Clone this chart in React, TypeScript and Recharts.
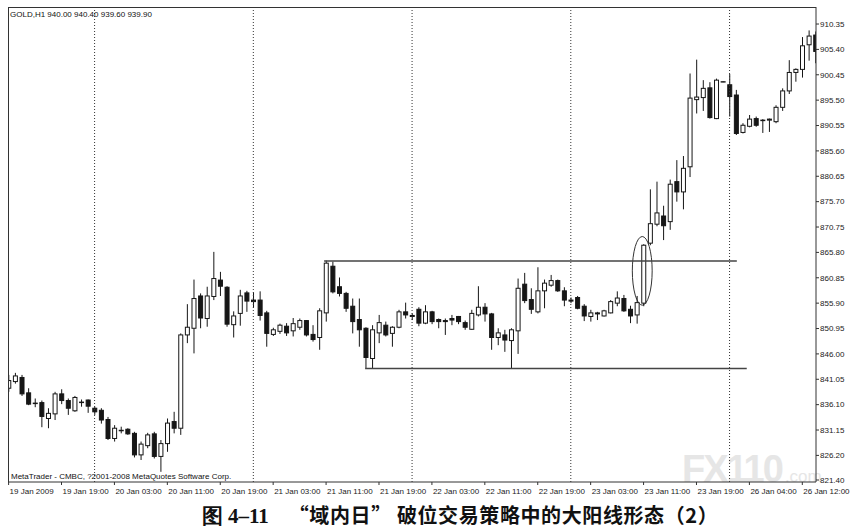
import { ComposedChart, Bar, XAxis, YAxis, ReferenceLine, ReferenceArea } from 'recharts'

// GOLD H1, 19 Jan 2009 11:00 .. 26 Jan 2009, one value per hourly bar
const open = [
  839.3, 840.6, 841.4, 838.4, 836.4, 836.5, 833.4, 834.3, 838.2, 836.9,
  834.9, 836.5, 837.0, 835.4, 835.0, 833.2, 829.5, 831.1, 831.3, 830.5,
  826.3, 828.1, 830.4, 826.0, 828.5, 832.8, 831.5, 849.7, 851.0, 857.3,
  852.9, 857.2, 860.4, 859.0, 851.7, 853.9, 857.9, 856.5, 856.5, 854.0,
  849.8, 850.4, 851.4, 850.5, 851.2, 852.5, 849.8, 849.2, 854.0, 863.1,
  859.1, 857.8, 855.3, 852.7, 851.0, 845.1, 850.1, 851.6, 850.0, 851.2,
  854.2, 853.5, 854.7, 852.0, 854.2, 852.7, 852.5, 852.9, 853.3, 852.1,
  850.8, 853.6, 855.1, 853.8, 849.2, 849.7, 848.6, 850.5, 859.6, 856.6,
  854.2, 858.3, 859.4, 860.3, 858.3, 856.5, 857.0, 855.3, 853.3, 853.8,
  853.4, 854.0, 855.9, 856.8, 854.7, 853.6, 855.9, 867.6, 871.3, 872.9,
  871.8, 879.6, 877.6, 882.5, 895.6, 896.0, 897.9, 891.9, 899.1, 898.5,
  896.5, 889.2, 890.4, 891.9, 891.5, 891.6, 891.3, 894.1, 897.3, 900.9,
  901.5, 906.3, 908.2,
]
const high = [
  841.9, 842.3, 841.9, 839.3, 837.3, 836.9, 835.4, 838.6, 839.1, 837.3,
  837.8, 837.1, 837.1, 835.7, 835.4, 833.7, 832.1, 831.8, 831.5, 830.8,
  828.9, 830.6, 830.8, 829.2, 833.4, 834.7, 850.0, 855.7, 860.5, 857.8,
  859.1, 865.9, 862.0, 859.2, 854.3, 858.5, 858.3, 858.0, 858.2, 854.4,
  851.1, 851.9, 852.0, 853.0, 852.9, 852.6, 851.6, 854.9, 864.2, 864.0,
  860.9, 858.1, 856.8, 856.8, 851.2, 851.6, 853.6, 852.3, 851.4, 854.6,
  856.0, 853.9, 855.1, 855.5, 854.4, 852.9, 852.9, 853.6, 853.4, 852.5,
  854.6, 859.2, 855.9, 854.0, 851.0, 850.7, 851.0, 860.7, 861.8, 858.8,
  862.9, 860.5, 861.4, 860.5, 859.0, 857.0, 857.3, 855.7, 854.6, 854.2,
  854.6, 856.5, 858.2, 857.5, 855.4, 857.3, 867.4, 878.1, 879.6, 874.9,
  880.0, 883.8, 884.6, 900.7, 903.4, 899.4, 899.0, 899.7, 899.2, 900.6,
  897.5, 891.0, 892.6, 892.3, 891.8, 891.9, 894.5, 897.8, 903.3, 901.7,
  907.8, 909.1, 908.9,
]
const low = [
  838.6, 840.2, 837.8, 836.0, 835.6, 831.7, 831.5, 833.1, 836.2, 834.1,
  834.7, 835.7, 834.5, 834.1, 832.4, 829.2, 828.9, 830.5, 830.2, 825.8,
  825.3, 827.6, 825.6, 823.0, 826.9, 830.5, 830.2, 848.1, 846.1, 851.0,
  851.3, 856.5, 857.3, 851.3, 849.2, 851.5, 854.2, 855.0, 852.5, 847.4,
  849.5, 849.9, 849.5, 849.4, 850.7, 849.4, 848.4, 846.8, 852.3, 857.8,
  857.2, 854.2, 850.0, 847.4, 843.2, 843.2, 848.1, 849.4, 847.4, 851.0,
  852.9, 852.6, 851.4, 851.8, 851.8, 851.0, 849.7, 851.6, 851.8, 850.7,
  850.7, 853.3, 852.3, 846.8, 847.7, 846.4, 843.2, 846.0, 855.9, 853.8,
  853.9, 854.9, 859.1, 858.1, 855.3, 855.9, 854.7, 852.4, 852.3, 852.6,
  853.3, 853.9, 855.3, 854.2, 852.0, 851.9, 855.3, 867.2, 870.9, 868.2,
  870.2, 875.7, 874.2, 880.5, 892.9, 893.4, 891.9, 891.8, 899.0, 892.3,
  888.7, 889.0, 890.2, 890.3, 889.1, 889.3, 891.0, 893.4, 896.7, 899.1,
  899.9, 903.2, 902.7,
]
const close = [
  840.8, 841.7, 838.2, 836.2, 836.3, 833.8, 834.4, 838.2, 836.9, 835.4,
  837.5, 836.6, 835.8, 834.7, 833.1, 829.5, 831.5, 831.0, 830.4, 826.3,
  828.4, 830.2, 826.0, 828.5, 832.5, 831.5, 849.7, 851.2, 856.8, 853.0,
  857.3, 860.7, 859.2, 851.8, 853.4, 857.3, 856.3, 856.2, 853.5, 850.0,
  850.7, 851.6, 850.1, 851.9, 852.5, 849.7, 848.8, 854.4, 863.7, 858.1,
  857.8, 854.9, 852.3, 850.7, 845.3, 850.7, 852.1, 849.7, 851.2, 854.2,
  853.6, 853.3, 852.0, 854.2, 852.3, 852.3, 852.3, 852.6, 852.3, 851.2,
  853.9, 855.1, 853.8, 849.2, 850.1, 848.7, 850.7, 858.8, 856.4, 854.7,
  858.3, 859.8, 860.3, 858.3, 856.5, 856.3, 854.9, 853.4, 854.0, 854.0,
  854.4, 856.2, 856.9, 854.4, 853.4, 856.0, 867.2, 871.4, 873.5, 871.0,
  879.1, 877.6, 882.2, 895.9, 896.1, 897.8, 892.1, 899.4, 899.1, 896.2,
  889.0, 890.6, 891.8, 890.6, 891.6, 891.8, 894.1, 897.3, 900.9, 901.5,
  906.1, 908.0, 905.0,
]

const xTickIndex = [0, 8, 16, 24, 32, 40, 48, 56, 64, 72, 80, 88, 96, 104, 112, 120]
const xTickLabels = [
  '19 Jan 2009', '19 Jan 19:00', '20 Jan 03:00', '20 Jan 11:00', '20 Jan 19:00',
  '21 Jan 03:00', '21 Jan 11:00', '21 Jan 19:00', '22 Jan 03:00', '22 Jan 11:00',
  '22 Jan 19:00', '23 Jan 03:00', '23 Jan 11:00', '23 Jan 19:00', '26 Jan 04:00',
  '26 Jan 12:00',
]
const yTicks = [
  910.35, 905.4, 900.45, 895.5, 890.55, 885.6, 880.65, 875.7, 870.75, 865.8,
  860.85, 855.9, 850.95, 846.0, 841.05, 836.1, 831.15, 826.2, 821.4,
]
// bars where a new day starts (period separators)
const daySeparators = [13, 37, 61, 85, 109]
// box of the in-day range
const rangeLines = [
  { price: 864.12, from: 47.7, to: 110.1 },
  { price: 843.15, from: 53.9, to: 111.6 },
]
// ring around the breakout candle
const breakoutRing = { x1: 94.3, x2: 97.3, y1: 855.5, y2: 868.9 }

const candles = open.map((o, i) => ({ i, open: o, high: high[i], low: low[i], close: close[i] }))

const INK = '#161616'
const AXIS_FONT = '"Liberation Sans", Arial, sans-serif'

function Candle(props: any) {
  const { x, y, width, height, payload } = props
  const { open: o, close: c, high: h, low: l } = payload
  const span = Math.abs(height)
  const top = height < 0 ? y + height : y
  const ratio = h > l ? span / (h - l) : 0
  const py = (v: number) => top + (h - v) * ratio
  const cx = x + width / 2
  const bodyTop = py(Math.max(o, c))
  const bodyBot = py(Math.min(o, c))
  const bw = 4
  return (
    <g>
      <line x1={cx} x2={cx} y1={top} y2={top + span} stroke={INK} strokeWidth={1} />
      <rect
        x={cx - bw / 2}
        y={bodyTop}
        width={bw}
        height={Math.max(bodyBot - bodyTop, 0.4)}
        fill={c >= o ? '#fff' : INK}
        stroke={INK}
        strokeWidth={1}
      />
    </g>
  )
}

function XTick({ x, y, payload }: any) {
  const k = xTickIndex.indexOf(payload.value)
  return (
    <text x={x + 1} y={y} dy="0.88em" fontSize={8} fill="#222" fontFamily={AXIS_FONT} textAnchor="start">
      {xTickLabels[k]}
    </text>
  )
}

export default function App() {
  return (
    <div style={{ position: 'absolute', left: 0, top: 0, width: 855, height: 529, background: '#fff', overflow: 'hidden' }}>
      {/* watermark, faint, behind the chart */}
      <div style={{ position: 'absolute', left: 682, top: 454, lineHeight: '30px', fontFamily: AXIS_FONT, fontWeight: 700, color: '#e6e6e6', whiteSpace: 'nowrap' }}>
        <span style={{ fontSize: 38, letterSpacing: -2 }}>FX110</span>
        <span style={{ fontSize: 17, fontWeight: 400, marginLeft: 3 }}>.com</span>
      </div>

      <div style={{ position: 'absolute', left: 0, top: 0 }}>
        <ComposedChart width={855} height={529} data={candles} margin={{ top: 7, right: 0, bottom: 27, left: 8 }}>
          <XAxis
            dataKey="i"
            type="number"
            domain={[-0.09, 122.07]}
            allowDataOverflow
            ticks={xTickIndex}
            interval={0}
            height={20}
            tickSize={3}
            tick={<XTick />}
            axisLine={{ stroke: '#333' }}
            tickLine={{ stroke: '#333' }}
          />
          <YAxis
            orientation="right"
            type="number"
            domain={[821.01, 913.67]}
            allowDataOverflow
            ticks={yTicks}
            interval={0}
            width={39}
            tickSize={3}
            tickMargin={1}
            tickFormatter={(v: number) => v.toFixed(2)}
            tick={{ fontSize: 8, fill: '#222', fontFamily: AXIS_FONT }}
            axisLine={{ stroke: '#333' }}
            tickLine={{ stroke: '#333' }}
          />
          {daySeparators.map((d) => (
            <ReferenceLine key={d} x={d} stroke="#333" strokeDasharray="1 2" />
          ))}
          {rangeLines.map((r) => (
            <ReferenceLine
              key={r.price}
              segment={[{ x: r.from, y: r.price }, { x: r.to, y: r.price }]}
              stroke="#444"
              strokeWidth={1.5}
            />
          ))}
          <Bar
            dataKey={(d: any) => [d.low, d.high]}
            barSize={5}
            isAnimationActive={false}
            shape={(p: any) => <Candle {...p} />}
          />
          <ReferenceArea
            x1={breakoutRing.x1}
            x2={breakoutRing.x2}
            y1={breakoutRing.y1}
            y2={breakoutRing.y2}
            shape={(p: any) => (
              <ellipse
                cx={p.x + p.width / 2}
                cy={p.y + p.height / 2}
                rx={Math.abs(p.width) / 2}
                ry={Math.abs(p.height) / 2}
                fill="none"
                stroke="#333"
                strokeWidth={1}
              />
            )}
          />
        </ComposedChart>
      </div>

      {/* chart frame top / left */}
      <div style={{ position: 'absolute', left: 8, top: 7, width: 808, height: 475, borderTop: '1px solid #333', borderLeft: '1px solid #333', boxSizing: 'border-box', pointerEvents: 'none' }} />

      <div style={{ position: 'absolute', left: 10, top: 10, fontSize: 8, fontFamily: AXIS_FONT, color: '#111', whiteSpace: 'nowrap' }}>
        GOLD,H1 940.00 940.40 939.60 939.90
      </div>
      <div style={{ position: 'absolute', left: 11, top: 472, fontSize: 8, fontFamily: AXIS_FONT, color: '#111', whiteSpace: 'nowrap' }}>
        MetaTrader - CMBC, ?2001-2008 MetaQuotes Software Corp.
      </div>

      <div style={{ position: 'absolute', left: 0, width: 920, top: 504, lineHeight: '22px', textAlign: 'center', fontSize: 20, fontWeight: 700, color: '#111', fontFamily: '"Noto Sans CJK SC", sans-serif', whiteSpace: 'nowrap' }}>
        <span style={{ fontFamily: '"Liberation Serif", serif', fontSize: 21 }}>图 4–11</span>
        <span style={{ marginLeft: 20, letterSpacing: 0.6 }}>“域内日” 破位交易策略中的大阳线形态（2）</span>
      </div>
    </div>
  )
}
